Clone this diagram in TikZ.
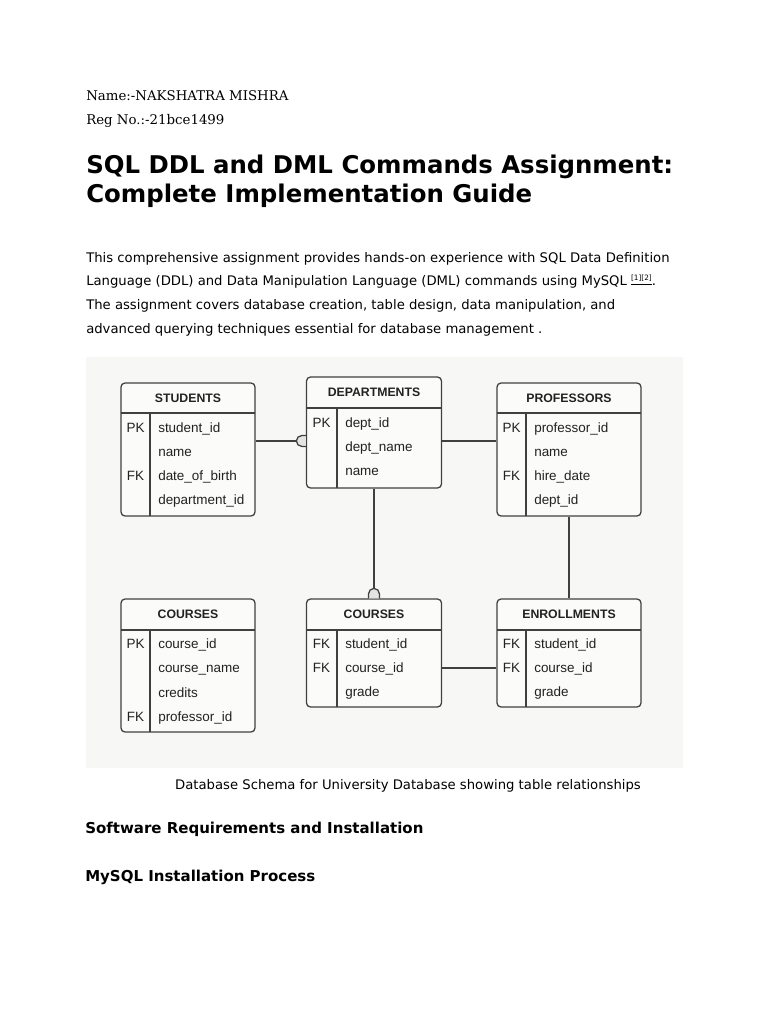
\documentclass[tikz,border=0pt]{standalone}
\usepackage{fontspec}
\setmainfont{DejaVu Sans}
\newfontfamily\namefont{DejaVu Serif}
\newfontfamily\erfont{Liberation Sans}
\usetikzlibrary{positioning,fit}

\definecolor{schemabg}{HTML}{F7F7F5}
\definecolor{boxfill}{HTML}{FBFBFA}
\definecolor{schemaline}{HTML}{404040}
\definecolor{crowfill}{HTML}{E4E4E2}
\definecolor{ertext}{HTML}{222222}

\begin{document}
\begin{tikzpicture}[
		x=0.75pt, y=-0.75pt,
		line/.style={anchor=base west, inner sep=0pt, text=black},
		who/.style={line, font=\namefont\fontsize{10}{12}\selectfont},
		title/.style={line, font=\bfseries\fontsize{18.3}{22}\selectfont},
		body/.style={line, font=\fontsize{9.9}{12}\selectfont},
		section/.style={line, font=\bfseries\fontsize{11.25}{13}\selectfont},
		tbl/.style={draw=schemaline, line width=0.95pt, fill=boxfill, rounded corners=3pt, inner sep=0pt},
		hdr/.style={font=\erfont\bfseries\fontsize{9.2}{11}\selectfont, text=ertext, inner sep=0pt},
		key/.style={font=\erfont\fontsize{10.1}{12}\selectfont, text=ertext, inner sep=0pt, anchor=base},
		fld/.style={key, anchor=base west},
		grid/.style={draw=schemaline, line width=0.95pt},
		link/.style={draw=schemaline, line width=0.95pt}
		]
		\useasboundingbox[fill=white] (0,0) rectangle (768,1024);
		
		%==================== Heading text ====================%
		\node[who] (stuname) at (86,100.5) {Name:-NAKSHATRA MISHRA};
		\node[who] (regno) at (86,124) {Reg No.:-21bce1499};
		
		\node[title] (title1) at (86,173) {SQL DDL and DML Commands Assignment:};
		\node[title] (title2) at (86,202) {Complete Implementation Guide};
		
		\node[body] (para1) at (86,262) {This comprehensive assignment provides hands-on experience with SQL Data Definition};
		\node[body] (para2) at (86,285.6) {Language (DDL) and Data Manipulation Language (DML) commands using MySQL {\fontsize{5.5}{6}\selectfont\raisebox{3.5pt}{\underline{[1][2]}}}.};
		\node[body] (para3) at (86,309.3) {The assignment covers database creation, table design, data manipulation, and};
		\node[body] (para4) at (86,333) {advanced querying techniques essential for database management .};
		
		%==================== Schema ====================%
		\fill[schemabg] (86,357) rectangle (683,768);
		
		% top row
		\node[tbl, fit={(121,383) (255,516)}] (students) {};
		\node[hdr] (students-h) at (188,398) {STUDENTS};
		\draw[grid] (121,413) -- (255,413) (150,413) -- (150,516);
		\foreach \k/\f [count=\i from 0] in {PK/student\_id, /name, FK/date\_of\_birth, /department\_id}{
			\node[key] (students-k\i) at (135.5,{432.8+23.8*\i}) {\k};
			\node[fld] (students-f\i) at (158,{432.8+23.8*\i}) {\f};
		}
		
		\node[tbl, fit={(306.5,377) (441.5,488)}] (depts) {};
		\node[hdr] (depts-h) at (374,392.5) {DEPARTMENTS};
		\draw[grid] (306.5,408) -- (441.5,408) (337,408) -- (337,488);
		\foreach \k/\f [count=\i from 0] in {PK/dept\_id, /dept\_name, /name}{
			\node[key] (depts-k\i) at (321.5,{427.8+23.8*\i}) {\k};
			\node[fld] (depts-f\i) at (345,{427.8+23.8*\i}) {\f};
		}
		
		\node[tbl, fit={(497,383) (641,516)}] (profs) {};
		\node[hdr] (profs-h) at (569,398) {PROFESSORS};
		\draw[grid] (497,413) -- (641,413) (526,413) -- (526,516);
		\foreach \k/\f [count=\i from 0] in {PK/professor\_id, /name, FK/hire\_date, /dept\_id}{
			\node[key] (profs-k\i) at (511.5,{432.8+23.8*\i}) {\k};
			\node[fld] (profs-f\i) at (534,{432.8+23.8*\i}) {\f};
		}
		
		% bottom row
		\node[tbl, fit={(121,599) (255,732)}] (courses) {};
		\node[hdr] (courses-h) at (188,614.5) {COURSES};
		\draw[grid] (121,630) -- (255,630) (150,630) -- (150,732);
		\foreach \k/\f [count=\i from 0] in {PK/course\_id, /course\_name, /credits, FK/professor\_id}{
			\node[key] (courses-k\i) at (135.5,{648.6+24.2*\i}) {\k};
			\node[fld] (courses-f\i) at (158,{648.6+24.2*\i}) {\f};
		}
		
		\node[tbl, fit={(306.5,599) (441.5,707)}] (midcourses) {};
		\node[hdr] (midcourses-h) at (374,614.5) {COURSES};
		\draw[grid] (306.5,630) -- (441.5,630) (337,630) -- (337,707);
		\foreach \k/\f [count=\i from 0] in {FK/student\_id, FK/course\_id, /grade}{
			\node[key] (midcourses-k\i) at (321.5,{648.6+24*\i}) {\k};
			\node[fld] (midcourses-f\i) at (345,{648.6+24*\i}) {\f};
		}
		
		\node[tbl, fit={(497,599) (641,707)}] (enroll) {};
		\node[hdr] (enroll-h) at (569,614.5) {ENROLLMENTS};
		\draw[grid] (497,630) -- (641,630) (526,630) -- (526,707);
		\foreach \k/\f [count=\i from 0] in {FK/student\_id, FK/course\_id, /grade}{
			\node[key] (enroll-k\i) at (511.5,{648.6+24*\i}) {\k};
			\node[fld] (enroll-f\i) at (534,{648.6+24*\i}) {\f};
		}
		
		%==================== Relationships ====================%
		\coordinate (toprel) at (0,441);
		\coordinate (botrel) at (0,668);
		
		\draw[link] (students.east |- toprel) -- (depts.west |- toprel);
		\draw[link, fill=crowfill] (depts.west |- toprel) ++(0,-5.5) -- ++(-4,0)
			arc[start angle=90, end angle=270, radius=4.1pt] -- ++(4,0);
		\draw[link] (depts.east |- toprel) -- (profs.west |- toprel);
		
		\draw[link] (depts.south) -- (midcourses.north);
		\draw[link, fill=crowfill] (midcourses.north) ++(-5.5,0) -- ++(0,-4.5)
			arc[start angle=180, end angle=0, radius=4.1pt] -- ++(0,4.5);
		
		\draw[link] (profs.south) -- (enroll.north);
		\draw[link] (midcourses.east |- botrel) -- (enroll.west |- botrel);
		
		%==================== Caption and sections ====================%
		\node[body, anchor=base] (caption) at (408,789) {Database Schema for University Database showing table relationships};
		\node[section] (software) at (85,833) {Software Requirements and Installation};
		\node[section] (install) at (85,881) {MySQL Installation Process};
		
	\end{tikzpicture}
\end{document}
